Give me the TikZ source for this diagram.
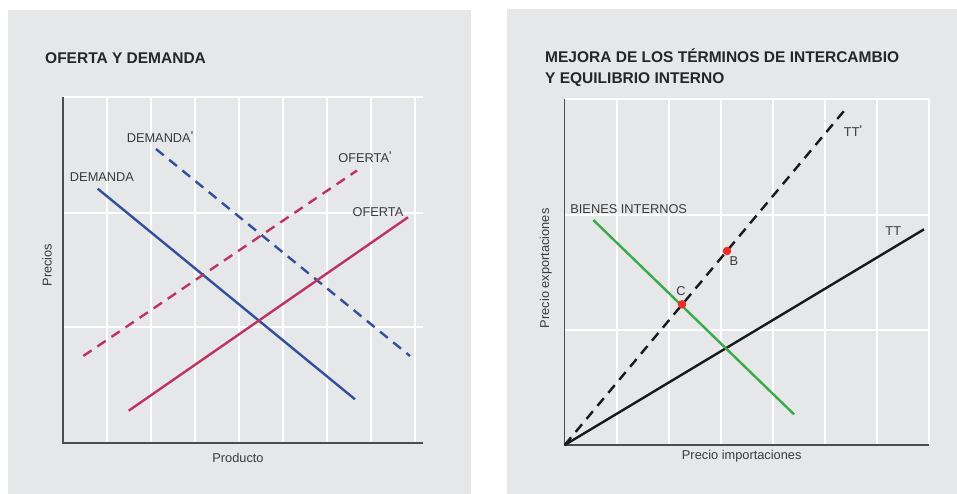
\documentclass[tikz,border=0pt]{standalone}
\usepackage{fontspec}
\setmainfont{Liberation Sans}
\usepackage{xcolor}
\usepackage{tikz}
\usetikzlibrary{calc, positioning}
\definecolor{panelgray}{HTML}{E6E7E8}
\definecolor{axisgray}{HTML}{4D4D4F}
\definecolor{textgray}{HTML}{3A3A3C}
\definecolor{demblue}{HTML}{33509C}
\definecolor{ofred}{HTML}{BE3461}
\definecolor{bigreen}{HTML}{3AAA48}
\definecolor{dotred}{HTML}{EE2B26}
\newcommand{\primetick}{\raisebox{2.5pt}{\textquotesingle}}
\tikzset{
    panel/.style={fill=panelgray, draw=none},
    gridline/.style={draw=white, line width=1.6pt},
    axisline/.style={draw=axisgray, line width=1.3pt},
    curve/.style={line width=2.4pt},
    dashcurve/.style={line width=2.4pt, dash pattern=on 10pt off 7pt},
    title/.style={font=\fontsize{15.5}{21}\selectfont\bfseries, text=black!85, align=left, anchor=west, inner sep=0pt},
    label/.style={font=\fontsize{12.8}{15}\selectfont, text=textgray, inner sep=0pt},
    dot/.style={circle, fill=dotred, inner sep=0pt, minimum size=8.5pt}
}

\begin{document}
\begin{tikzpicture}[x=1pt, y=-1pt]
    \useasboundingbox (0,0) rectangle (957,494);

    % Panels
    \fill[panel] (8,10) rectangle (471,494);
    \fill[panel] (507,9) rectangle (957,494);

    % Titles
    \node[title] (titleL) at (45,58) {OFERTA Y DEMANDA};
    \node[title] (titleR) at (545,67.8) {MEJORA DE LOS TÉRMINOS DE INTERCAMBIO\\Y EQUILIBRIO INTERNO};

    % Left grid
    \foreach \i in {1,...,8}
        \draw[gridline] (63+44*\i,97) -- (63+44*\i,443);
    \foreach \y in {97,213,327}
        \draw[gridline] (63,\y) -- (423,\y);
    \draw[axisline] (63,97) -- (63,443) -- (423,443);

    % Right grid
    \foreach \i in {1,...,7}
        \draw[gridline] (564.7+52*\i,99) -- (564.7+52*\i,445);
    \foreach \y in {99,215,330}
        \draw[gridline] (564.7,\y) -- (929,\y);
    \draw[axisline] (564.7,99) -- (564.7,445) -- (929,445);

    % Axis labels
    \node[label, rotate=90] (precios) at (47,265) {Precios};
    \node[label] (producto) at (238,458) {Producto};
    \node[label, rotate=90] (pexp) at (545.7,268.3) {Precio exportaciones};
    \node[label] (pimp) at (741.7,455.7) {Precio importaciones};

    % Supply and demand end points
    \coordinate (D0) at (97.7,188.7);
    \coordinate (D1) at (355,399.3);
    \coordinate (Dp0) at (156,149);
    \coordinate (Dp1) at (410,356);
    \coordinate (S0) at (128.7,410.7);
    \coordinate (S1) at (408,217.3);
    \coordinate (Sp0) at (83.3,356);
    \coordinate (Sp1) at (357,170.5);

    \draw[curve, demblue] (D0) -- (D1);
    \draw[dashcurve, demblue] (Dp0) -- (Dp1);
    \draw[dashcurve, ofred] (Sp0) -- (Sp1);
    \draw[curve, ofred] (S0) -- (S1);

    \node[label] (demanda) at (102,177) {DEMANDA};
    \node[label] (demandap) at (160,137) {DEMANDA\primetick};
    \node[label] (ofertap) at (365,157) {OFERTA\primetick};
    \node[label] (oferta) at (378,212) {OFERTA};

    % Terms of trade
    \coordinate (O) at (564.7,445);
    \coordinate (TTp) at (846.7,107.7);
    \coordinate (TT) at (924,229.3);
    \coordinate (BI0) at (593.3,220);
    \coordinate (BI1) at (794,414.3);

    \draw[dashcurve, black!90] (O) -- (TTp);
    \draw[curve, black!90] (O) -- (TT);
    \draw[curve, bigreen] (BI0) -- (BI1);

    \node[dot] (B) at (727,251) {};
    \node[dot] (C) at (682,304.3) {};

    \node[label] (lTTp) at (853,131) {TT\primetick};
    \node[label] (lTT) at (893.3,231) {TT};
    \node[label] (lBI) at (628.7,209) {BIENES INTERNOS};
    \node[label] (lB) at (734,261) {B};
    \node[label] (lC) at (681,291.3) {C};
\end{tikzpicture}
\end{document}
